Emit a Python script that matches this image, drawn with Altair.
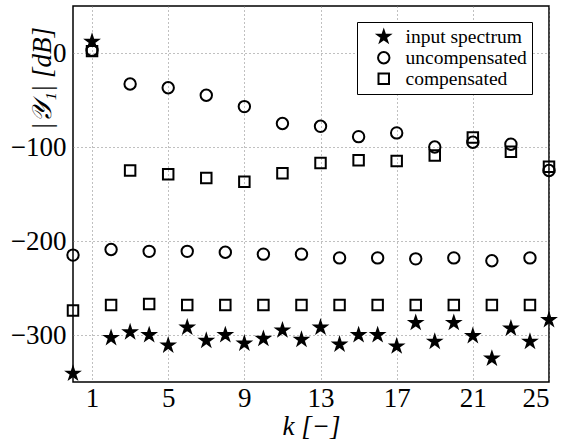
import altair as alt

# Harmonic index k and magnitude of the first output component in dB
k = list(range(26))
input_spectrum = [-341, 12, -303, -297, -300, -311, -292, -306, -300, -309, -304, -295, -305,
                  -292, -310, -300, -300, -312, -287, -307, -287, -301, -325, -293, -307, -284]
uncompensated = [-215, 3, -209, -33, -211, -37, -211, -45, -212, -57, -214, -75, -214,
                 -78, -218, -89, -218, -85, -219, -100, -218, -95, -221, -97, -218, -125]
compensated = [-274, 2, -268, -125, -267, -129, -268, -133, -268, -137, -268, -128, -268,
               -117, -268, -114, -268, -115, -268, -109, -268, -90, -268, -105, -268, -121]

series_names = ["input spectrum", "uncompensated", "compensated"]
x_ticks = [1, 5, 9, 13, 17, 21, 25]
y_ticks = [0, -100, -200, -300]

rows = []
for name, vals in zip(series_names, [input_spectrum, uncompensated, compensated]):
    for kk, v in zip(k, vals):
        rows.append({"harmonic": kk, "mag": v, "series": name})
data = alt.Data(values=rows)

# five-pointed star symbol in the unit square used by Vega custom shapes
STAR = ("M0,-1L0.2245,-0.309L0.9511,-0.309L0.3633,0.118L0.5878,0.809"
        "L0,0.382L-0.5878,0.809L-0.3633,0.118L-0.9511,-0.309L-0.2245,-0.309Z")

FONT = "Liberation Serif"
W, H = 476, 376

grid_style = dict(grid=True, gridColor="#808080", gridDash=[1, 3], gridWidth=1,
                  ticks=False, domain=False, labelColor="black", titleColor="black",
                  labelFont=FONT, labelFontSize=27, titleFont=FONT, titleFontSize=27,
                  titleFontWeight="normal")

x_enc = alt.X("harmonic:Q", scale=alt.Scale(domain=[0, 25], nice=False, zero=False),
              axis=alt.Axis(values=x_ticks, title="k [−]", titleFontStyle="italic",
                            titlePadding=2, labelPadding=3, **grid_style))
y_enc = alt.Y("mag:Q", scale=alt.Scale(domain=[-350, 50], nice=False, zero=False),
              axis=alt.Axis(values=y_ticks, title="|𝒴₁| [dB]", titleFontStyle="italic",
                            titleAngle=270, titleX=-31, titleY=72, titleAlign="center",
                            titleBaseline="middle", labelPadding=7, format="d",
                            **grid_style))

legend_style = alt.Legend(title=None, orient="none", legendX=284, legendY=16,
                          strokeColor="black", fillColor="white", padding=5,
                          labelFont=FONT, labelFontSize=19.5, labelColor="black",
                          symbolStrokeWidth=2, symbolOffset=12,
                          rowPadding=0, labelOffset=12, cornerRadius=0)

chart = alt.Chart(data).mark_point(strokeWidth=2, opacity=1).encode(
    x=x_enc,
    y=y_enc,
    shape=alt.Shape("series:N",
                    scale=alt.Scale(domain=series_names, range=[STAR, "circle", "square"]),
                    legend=legend_style),
    fill=alt.Fill("series:N",
                  scale=alt.Scale(domain=series_names, range=["black", "transparent", "transparent"]),
                  legend=legend_style),
    stroke=alt.Stroke("series:N",
                      scale=alt.Scale(domain=series_names, range=["black", "black", "black"]),
                      legend=legend_style),
    size=alt.Size("series:N",
                  scale=alt.Scale(domain=series_names, range=[150, 110, 78]),
                  legend=legend_style),
).properties(
    width=W, height=H,
    autosize=alt.AutoSizeParams(type="none"),
    padding={"left": 73, "top": 6, "right": 12, "bottom": 59},
    background="white",
    title=alt.TitleParams("(b) Input and output spectra of the system", orient="bottom",
                          anchor="start", dx=-52, offset=4, font=FONT, fontSize=27,
                          fontWeight="normal", color="black"),
).configure_view(stroke="black", strokeWidth=1.5)

chart.save("out.html", embed_options={"renderer": "svg", "actions": False})
